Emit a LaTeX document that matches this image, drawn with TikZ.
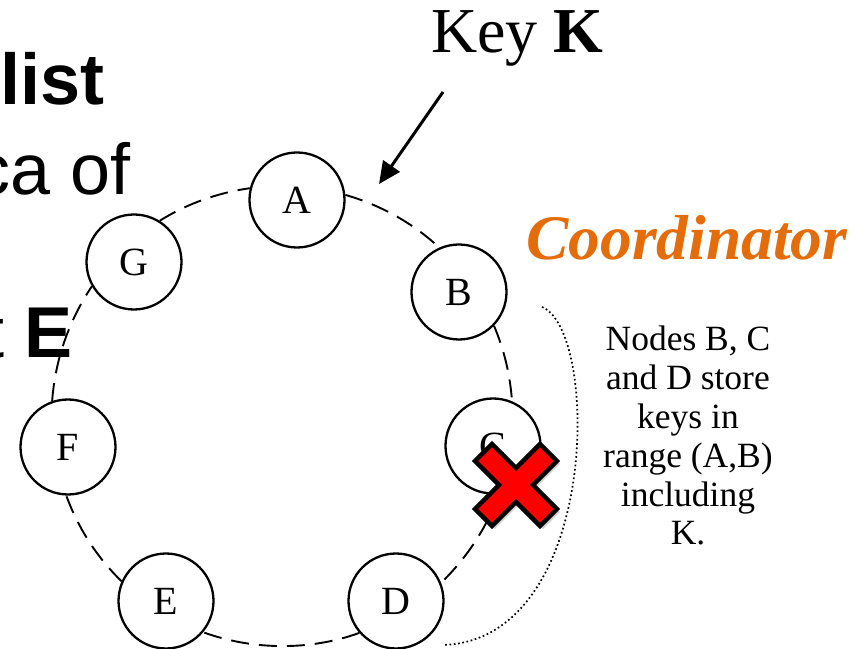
\documentclass[tikz,border=0pt]{standalone}
\usepackage{fontspec}
\setmainfont{Liberation Serif}
\newfontfamily\slidefont{Liberation Sans}
\usepackage{tikz}
\usetikzlibrary{arrows.meta,shadows}
\definecolor{coordorange}{RGB}{228,108,10}
\tikzstyle{every node}=[inner sep=0pt,font=\fontsize{40}{48}\selectfont]
\tikzstyle{peer}=[circle,
                  line width=2.3pt,
                  minimum size=95pt,
                  draw=black,
                  fill=white]
\tikzstyle{ring}=[line width=1.9pt,
                  dash pattern=on 18pt off 10pt,
                  looseness=0.86]
\tikzstyle{slide}=[font=\slidefont\fontsize{72}{80}\selectfont]
\tikzstyle{failed}=[line width=4.5pt,
                    draw=black,
                    fill=red,
                    drop shadow={shadow xshift=3pt,shadow yshift=-3pt,opacity=0.35}]
\tikzstyle{rangeline}=[line width=1.7pt,dash pattern=on 1.7pt off 2.6pt]

\begin{document}
\begin{tikzpicture}[x=1pt,y=1pt,>={Triangle[length=22pt,width=20pt]}]
\useasboundingbox (0,0) rectangle (867,648);
\clip (0,0) rectangle (867,648);
% what is left of the slide text
\node (title)   [slide,anchor=base west] at (0,543) {\bfseries list};
\node (replica) [slide,anchor=base east] at (131,453) {ca of};
\node (coord)   [slide,anchor=base east] at (73,290) {t \textbf{E}};
\node (A) [peer] at (297,448) {A};
\node (B) [peer] at (459,356) {B};
\node (C) [peer] at (493,202) {C};
\node (D) [peer] at (396,47) {D};
\node (E) [peer] at (166,47) {E};
\node (F) [peer] at (68,201) {F};
\node (G) [peer] at (134,386) {G};
 \path (A.6) edge[ring,out=-16,in=137] (B.114);
 \path (B.-44) edge[ring,out=-67,in=94] (C.67);
 \path (C.-83) edge[ring,out=-110,in=44] (D.22);
 \path (D.-139) edge[ring,out=-160,in=-20] (E.-40);
 \path (E.156) edge[ring,out=136,in=-70] (F.-92);
 \path (F.109) edge[ring,out=86,in=236] (G.-150);
 \path (G.58) edge[ring,out=32,in=188] (A.166);
\node (key) [anchor=base west,font=\fontsize{64}{72}\selectfont] at (431,595) {Key \textbf{K}};
\coordinate (ktail) at (443,556);
\coordinate (khead) at (379,464);
\draw[->,line width=3pt] (ktail) -- (khead);
\node (coordinator) [anchor=base west,text=coordorange,font=\fontsize{63.5}{70}\selectfont\bfseries\itshape] at (526,388) {Coordinator};
\begin{scope}[shift={(516,163)},rotate=45]
\draw[failed] (12,12) -- (46,12) -- (46,-12) -- (12,-12) -- (12,-46) -- (-12,-46) -- (-12,-12)
  -- (-46,-12) -- (-46,12) -- (-12,12) -- (-12,46) -- (12,46) -- cycle;
\end{scope}
\coordinate (rtop) at (542,341);
\coordinate (rbot) at (443,3);
\draw[rangeline] (rtop) .. controls (600,318) and (600,8) .. (rbot);
\node (note) [anchor=north,align=center,font=\fontsize{35.5}{38.8}\selectfont] at (688,322)
  {Nodes B, C\\and D store\\keys in\\range (A,B)\\including\\K.};
\end{tikzpicture}
\end{document}
